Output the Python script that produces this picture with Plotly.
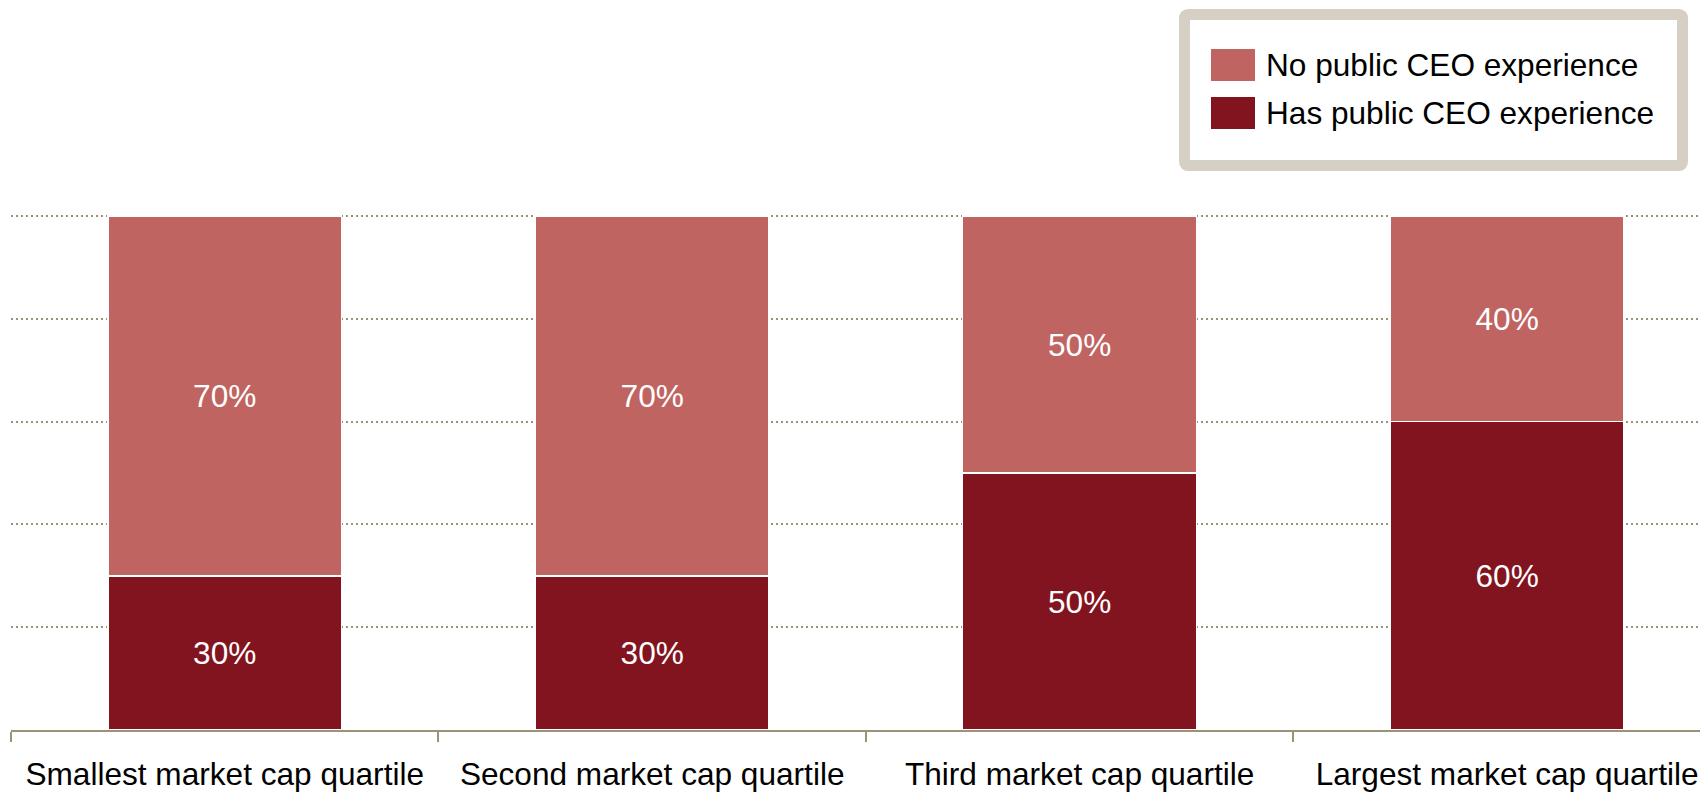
import plotly.graph_objects as go

categories = ["Smallest market cap quartile", "Second market cap quartile",
              "Third market cap quartile", "Largest market cap quartile"]
has_public_ceo = [30, 30, 50, 60]
no_public_ceo = [70, 70, 50, 40]
series_names = ["No public CEO experience", "Has public CEO experience"]

LIGHT = "#C06462"
DARK = "#82141F"
GRID = "#9C9276"
FONT = "Liberation Sans, Arial, sans-serif"
FS = 31.6

# page has an 8px body margin; figure coords = page coords - 8
OFF = 8
W, H = 1708 - OFF, 795 - OFF
L, R, T, B = 11 - OFF, 0, 214 - OFF, 795 - 730
plot_w = W - L - R
plot_h = H - T - B


def px(xp):  # page pixel -> paper
    return (xp - OFF - L) / plot_w


def py(yp):  # page pixel -> paper
    return (H - B - (yp - OFF)) / plot_h


fig = go.Figure()
fig.add_trace(go.Bar(
    x=categories, y=has_public_ceo, name=series_names[1],
    marker=dict(color=DARK, line=dict(color="white", width=1.5)),
    texttemplate="%{y}%", textposition="inside", insidetextanchor="middle",
    textfont=dict(color="white", size=FS, family=FONT), showlegend=False,
))
fig.add_trace(go.Bar(
    x=categories, y=no_public_ceo, name=series_names[0],
    marker=dict(color=LIGHT, line=dict(color="white", width=1.5)),
    texttemplate="%{y}%", textposition="inside", insidetextanchor="middle",
    textfont=dict(color="white", size=FS, family=FONT), showlegend=False,
))

# manual legend
shapes = []
x0, x1, y0, y1 = 1184.5, 1682.5, 14.5, 165.5
r = 4
path = (f"M {px(x0 + r)},{py(y0)} L {px(x1 - r)},{py(y0)} "
        f"Q {px(x1)},{py(y0)} {px(x1)},{py(y0 + r)} "
        f"L {px(x1)},{py(y1 - r)} Q {px(x1)},{py(y1)} {px(x1 - r)},{py(y1)} "
        f"L {px(x0 + r)},{py(y1)} Q {px(x0)},{py(y1)} {px(x0)},{py(y1 - r)} "
        f"L {px(x0)},{py(y0 + r)} Q {px(x0)},{py(y0)} {px(x0 + r)},{py(y0)} Z")
shapes.append(dict(type="path", path=path, xref="paper", yref="paper",
                   line=dict(color="#D5D0C3", width=11), fillcolor="white", layer="above"))
legend_items = [(series_names[0], LIGHT, 65), (series_names[1], DARK, 113)]
annotations = []
for name, col, cy in legend_items:
    shapes.append(dict(type="rect", xref="paper", yref="paper",
                       x0=px(1211), x1=px(1255), y0=py(cy - 16), y1=py(cy + 16),
                       line=dict(width=0), fillcolor=col, layer="above"))
    annotations.append(dict(text=name, xref="paper", yref="paper",
                            x=px(1264), y=py(cy), xanchor="left", yanchor="middle",
                            showarrow=False, font=dict(size=FS, family=FONT, color="black")))

fig.update_layout(
    width=W, height=H,
    margin=dict(l=L, r=R, t=T, b=B, autoexpand=False),
    paper_bgcolor="white", plot_bgcolor="white",
    barmode="stack", bargap=0.453,
    font=dict(family=FONT, size=FS, color="black"),
    shapes=shapes, annotations=annotations,
    showlegend=False,
)
fig.update_xaxes(
    range=[-0.5, 3.47], automargin=False,
    showline=True, linecolor=GRID, linewidth=2,
    ticks="outside", ticklen=10, tickwidth=2, tickcolor=GRID,
    tickson="boundaries", showgrid=False, ticklabelstandoff=15,
    tickfont=dict(size=FS, family=FONT, color="black"),
)
fig.update_yaxes(
    range=[0, 100.4], dtick=20, showticklabels=False, automargin=False,
    showgrid=True, gridcolor=GRID, gridwidth=2, griddash="2px,3px",
    zeroline=False, showline=False,
)

fig.write_html("out.html")
